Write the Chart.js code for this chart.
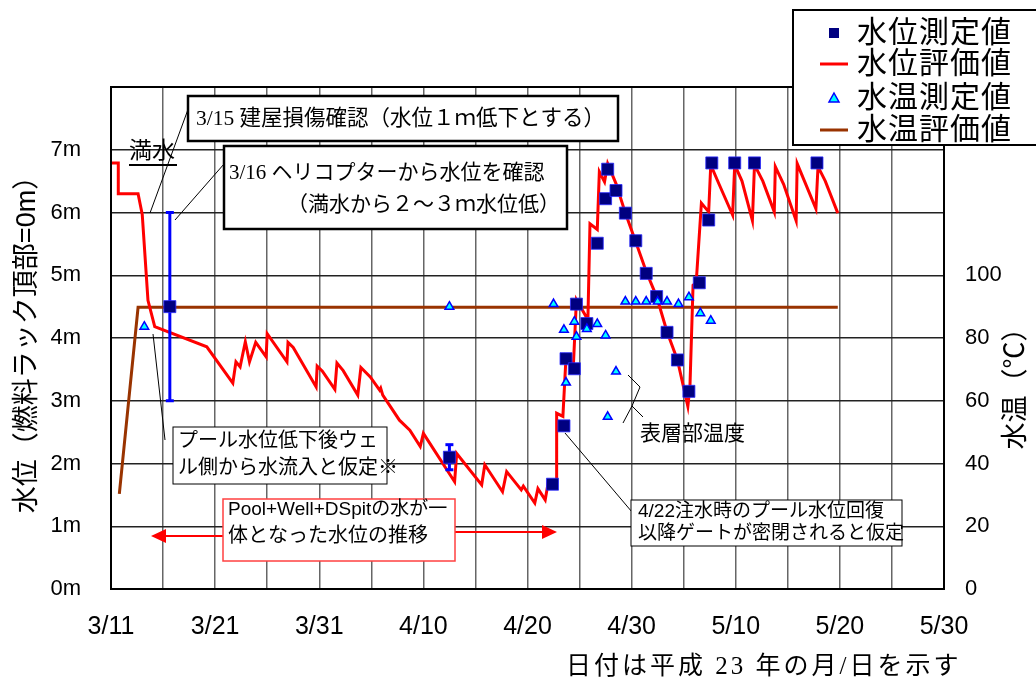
<!DOCTYPE html>
<html>
<head>
<meta charset="utf-8">
<script src="https://cdn.jsdelivr.net/npm/chart.js@4/dist/chart.umd.min.js"></script>
<style>
  html, body { margin: 0; padding: 0; background: #fff; }
</style>
</head>
<body>
<canvas id="chart" width="1036" height="684"></canvas>
<script>
// x values are days counted from 3/11 (平成23年)
const xTickLabels = ['3/11', '3/21', '3/31', '4/10', '4/20', '4/30', '5/10', '5/20', '5/30'];

// 水位評価値 (m)
const levelEvalDays = [0, 0.7, 0.7, 2.6, 3.0, 3.55, 4.2, 9.2, 11.7, 12.0, 12.4, 12.9, 13.3, 13.9, 14.9, 15.0,
  16.9, 17.0, 17.5, 19.7, 19.8, 20.3, 21.5, 21.7, 22.3, 23.7, 24.0, 24.9, 25.8, 25.9, 26.1, 27.7, 28.7,
  29.7, 30.0, 33.0, 33.2, 35.6, 35.9, 37.6, 38.0, 39.4, 39.6, 40.7, 41.0, 41.7, 42.0, 42.6, 42.8, 42.8,
  43.4, 43.7, 44.4, 44.7, 45.8, 46.0, 46.7, 46.9, 47.4, 47.7, 48.5, 49.4, 50.4, 51.4, 52.4, 53.4, 54.4,
  55.4, 55.6, 55.9, 56.2, 56.7, 57.4, 57.6, 58.4, 59.7, 59.9, 60.6, 61.6, 61.8, 62.6, 63.7, 63.8, 64.6,
  65.8, 65.9, 66.6, 67.7, 67.9, 68.6, 69.8];
const levelEvalVals = [6.79, 6.79, 6.3, 6.3, 5.97, 4.6, 4.18, 3.86, 3.28, 3.62, 3.54, 3.94, 3.62, 3.93, 3.70, 4.07,
  3.62, 3.93, 3.85, 3.22, 3.55, 3.47, 3.18, 3.6, 3.48, 3.09, 3.53, 3.38, 3.17, 3.2, 3.09, 2.69, 2.53,
  2.27, 2.48, 1.71, 2.16, 1.66, 1.98, 1.55, 1.87, 1.58, 1.64, 1.37, 1.60, 1.42, 1.71, 1.71, 1.71, 2.8,
  2.75, 3.7, 3.54, 4.61, 4.29, 5.82, 5.73, 6.65, 6.49, 6.78, 6.46, 5.99, 5.53, 5.06, 4.66, 4.10, 3.65,
  2.91, 3.22, 4.84, 4.88, 6.15, 6.01, 6.76, 6.45, 5.96, 6.76, 6.5, 5.87, 6.76, 6.5, 6.01, 6.73, 6.45,
  5.87, 6.78, 6.5, 6.06, 6.73, 6.5, 5.99];

// 水位測定値 (m)
const levelMeasDays = [5.65, 32.5, 42.4, 43.5, 43.7, 44.5, 44.7, 45.7, 46.7, 47.5, 47.7, 48.5, 49.4, 50.4,
  51.4, 52.4, 53.4, 54.4, 55.5, 56.5, 57.4, 57.7, 59.9, 61.8, 67.8];
const levelMeasVals = [4.5, 2.1, 1.67, 2.6, 3.67, 3.51, 4.54, 4.23, 5.51, 6.22, 6.69, 6.35, 5.99, 5.55,
  5.03, 4.66, 4.09, 3.65, 3.15, 4.88, 5.88, 6.79, 6.79, 6.79, 6.79];

// error ranges of 水位測定値
const errDays = [5.65, 32.5];
const errLow = [3.0, 1.9];
const errHigh = [6.0, 2.3];

// 水温測定値 (℃)
const tempMeasDays = [3.2, 32.5, 42.5, 43.5, 43.7, 44.5, 44.7, 45.7, 46.7, 47.5, 47.7, 48.5, 49.4, 50.4,
  51.4, 52.5, 53.4, 54.5, 55.5, 56.6, 57.6];
const tempMeasVals = [83.6, 90, 90.8, 82.6, 65.8, 85.2, 80.4, 82.9, 84.5, 80.8, 54.9, 69.3, 91.6, 91.6,
  91.6, 91.6, 91.6, 90.8, 93, 87.9, 85.5];

// 水温評価値 (℃)
const tempEvalDays = [0.8, 2.6, 69.8];
const tempEvalVals = [30.3, 89.8, 89.8];

const legendNames = ['水位測定値', '水位評価値', '水温測定値', '水温評価値'];

const SANS = "'Liberation Sans','Noto Sans CJK JP',sans-serif";
const SERIF = "'Liberation Serif','Noto Sans CJK JP',serif";

const toPts = (xs, ys) => xs.map((x, i) => ({ x: x, y: ys[i] }));

const errSets = errDays.map((d, i) => ({
  data: [{ x: d, y: errLow[i] }, { x: d, y: errHigh[i] }],
  yAxisID: 'y',
  showLine: true,
  borderColor: '#0000ff',
  borderWidth: 3,
  pointStyle: 'line',
  pointRadius: 4,
  pointBorderWidth: 3,
  pointBorderColor: '#0000ff',
  order: 2
}));

function drawBox(ctx, x, y, w, h, color, lw) {
  ctx.save();
  ctx.fillStyle = '#fff';
  ctx.fillRect(x, y, w, h);
  ctx.strokeStyle = color;
  ctx.lineWidth = lw;
  ctx.strokeRect(x, y, w, h);
  ctx.restore();
}

function drawText(ctx, str, x, y, font, align, spacing) {
  ctx.save();
  ctx.font = font;
  ctx.fillStyle = '#000';
  ctx.textAlign = align || 'left';
  ctx.textBaseline = 'middle';
  if (spacing) ctx.letterSpacing = spacing;
  ctx.fillText(str, x, y);
  ctx.restore();
}

function line(ctx, pts, color, lw) {
  ctx.save();
  ctx.strokeStyle = color;
  ctx.lineWidth = lw;
  ctx.beginPath();
  ctx.moveTo(pts[0][0], pts[0][1]);
  for (let i = 1; i < pts.length; i++) ctx.lineTo(pts[i][0], pts[i][1]);
  ctx.stroke();
  ctx.restore();
}

function arrowHead(ctx, tipX, tipY, dir) {
  ctx.save();
  ctx.fillStyle = '#ff0000';
  ctx.beginPath();
  ctx.moveTo(tipX, tipY);
  ctx.lineTo(tipX - dir * 15, tipY - 7);
  ctx.lineTo(tipX - dir * 15, tipY + 7);
  ctx.closePath();
  ctx.fill();
  ctx.restore();
}

const overlay = {
  id: 'overlay',
  afterDatasetsDraw(chart) {
    const ctx = chart.ctx;
    const a = chart.chartArea;

    // plot frame
    ctx.save();
    ctx.strokeStyle = '#000';
    ctx.lineWidth = 2;
    ctx.strokeRect(a.left, a.top, a.right - a.left, a.bottom - a.top);
    ctx.restore();

    // 満水
    drawText(ctx, '満水', 129, 152, '23px ' + SANS);
    line(ctx, [[129, 165], [177, 165]], '#000', 2);

    // leader lines
    line(ctx, [[190, 104], [150, 213]], '#000', 1);
    line(ctx, [[224, 164], [175, 220]], '#000', 1);
    line(ctx, [[153, 334], [165, 440]], '#000', 1);
    line(ctx, [[565, 433], [632, 512]], '#000', 1);
    line(ctx, [[628, 375], [640, 387], [632, 406], [643, 417]], '#000', 1);
    line(ctx, [[632, 406], [623, 423]], '#000', 1);

    // 3/15 box
    drawBox(ctx, 188, 96, 430, 45, '#000', 2.5);
    drawText(ctx, '3/15 建屋損傷確認（水位１ｍ低下とする）', 196, 119, '21.5px ' + SERIF);

    // 3/16 box
    drawBox(ctx, 224, 146, 343, 83, '#000', 2.5);
    drawText(ctx, '3/16 ヘリコプターから水位を確認', 229, 173, '21px ' + SERIF);
    drawText(ctx, '（満水から２～３ｍ水位低）', 560, 205, '21px ' + SERIF, 'right');

    // プール box
    drawBox(ctx, 173, 427, 214, 57, '#000', 1);
    drawText(ctx, 'プール水位低下後ウェ', 178, 441, '20px ' + SANS);
    drawText(ctx, 'ル側から水流入と仮定※', 178, 468, '20px ' + SANS);

    // Pool+Well+DSpit box with arrows
    line(ctx, [[223, 536], [164, 536]], '#ff0000', 2);
    arrowHead(ctx, 151, 536, -1);
    line(ctx, [[455, 532], [544, 532]], '#ff0000', 2);
    arrowHead(ctx, 557, 532, 1);
    drawBox(ctx, 223, 499, 232, 62, '#ff4040', 1.5);
    drawText(ctx, 'Pool+Well+DSpitの水が一', 228, 510, '19px ' + SANS);
    drawText(ctx, '体となった水位の推移', 228, 536, '20px ' + SANS);

    // 4/22 box
    drawBox(ctx, 631, 500, 271, 46, '#000', 1);
    drawText(ctx, '4/22注水時のプール水位回復', 638, 512, '19px ' + SANS);
    drawText(ctx, '以降ゲートが密閉されると仮定', 638, 534, '19px ' + SANS);

    // 表層部温度
    drawText(ctx, '表層部温度', 640, 434, '21px ' + SANS);

    // axis titles
    ctx.save();
    ctx.translate(28, 338);
    ctx.rotate(-Math.PI / 2);
    drawText(ctx, '水位（燃料ラック頂部=0m）', 0, 0, '27px ' + SANS, 'center');
    ctx.restore();
    ctx.save();
    ctx.translate(1017, 382);
    ctx.rotate(-Math.PI / 2);
    drawText(ctx, '水温（℃）', 0, 0, '27px ' + SANS, 'center');
    ctx.restore();

    // footer
    drawText(ctx, '日付は平成 23 年の月/日を示す', 566, 667, '25px ' + SERIF, 'left', '3px');

    // legend
    drawBox(ctx, 793, 10, 260, 135, '#000', 2);
    const rows = [33, 64, 98, 130];
    ctx.save();
    ctx.fillStyle = '#000080';
    ctx.fillRect(829, rows[0] - 5, 10, 10);
    ctx.restore();
    line(ctx, [[820, rows[1]], [848, rows[1]]], '#ff0000', 3);
    ctx.save();
    ctx.fillStyle = '#00ffff';
    ctx.strokeStyle = '#0000ff';
    ctx.lineWidth = 1.5;
    ctx.beginPath();
    ctx.moveTo(834, rows[2] - 5);
    ctx.lineTo(839, rows[2] + 4);
    ctx.lineTo(829, rows[2] + 4);
    ctx.closePath();
    ctx.fill();
    ctx.stroke();
    ctx.restore();
    line(ctx, [[820, rows[3]], [848, rows[3]]], '#993300', 3);
    legendNames.forEach((n, i) => drawText(ctx, n, 857, rows[i] + 1, '30px ' + SANS, 'left', '1px'));
  }
};

new Chart(document.getElementById('chart'), {
  type: 'scatter',
  data: {
    datasets: [
      {
        label: legendNames[2],
        data: toPts(tempMeasDays, tempMeasVals),
        yAxisID: 'y2',
        pointStyle: 'triangle',
        pointRadius: 5,
        backgroundColor: '#00ffff',
        borderColor: '#0000ff',
        borderWidth: 1.5,
        order: 0
      },
      {
        label: legendNames[0],
        data: toPts(levelMeasDays, levelMeasVals),
        yAxisID: 'y',
        pointStyle: 'rect',
        pointRadius: 8.5,
        backgroundColor: '#000080',
        borderColor: 'rgba(40,40,255,0.8)',
        borderWidth: 1,
        order: 1
      },
      ...errSets,
      {
        label: legendNames[1],
        data: toPts(levelEvalDays, levelEvalVals),
        yAxisID: 'y',
        showLine: true,
        borderColor: '#ff0000',
        borderWidth: 3,
        pointRadius: 0,
        order: 3
      },
      {
        label: legendNames[3],
        data: toPts(tempEvalDays, tempEvalVals),
        yAxisID: 'y2',
        showLine: true,
        borderColor: '#993300',
        borderWidth: 3,
        pointRadius: 0,
        order: 4
      }
    ]
  },
  options: {
    responsive: false,
    animation: false,
    layout: { padding: { top: 87, left: 0, right: 0, bottom: 0 } },
    plugins: { legend: { display: false }, tooltip: { enabled: false } },
    scales: {
      x: {
        type: 'linear',
        min: 0,
        max: 80,
        afterFit: (s) => { s.height = 95; },
        ticks: {
          stepSize: 5,
          autoSkip: false,
          maxRotation: 0,
          padding: 23,
          color: '#000',
          font: { size: 25, family: SANS },
          callback: (v) => (v % 10 === 0 ? xTickLabels[v / 10] : '')
        },
        grid: { color: '#666', lineWidth: 1.5, drawTicks: false },
        border: { color: '#000', width: 2 }
      },
      y: {
        position: 'left',
        min: 0,
        max: 8,
        afterFit: (s) => { s.width = 111; },
        ticks: {
          stepSize: 1,
          padding: 30,
          color: '#000',
          font: { size: 22, family: SANS },
          callback: (v) => (v <= 7 ? v + 'm' : '')
        },
        grid: { color: '#222', lineWidth: 1.5, drawTicks: false },
        border: { color: '#000', width: 2 }
      },
      y2: {
        position: 'right',
        min: 0,
        max: 160,
        afterFit: (s) => { s.width = 92; },
        ticks: {
          stepSize: 20,
          padding: 21,
          color: '#000',
          font: { size: 22, family: SANS },
          callback: (v) => (v <= 100 ? String(v) : '')
        },
        grid: { display: false, drawTicks: false },
        border: { color: '#000', width: 2 }
      }
    }
  },
  plugins: [overlay]
});
</script>
</body>
</html>
